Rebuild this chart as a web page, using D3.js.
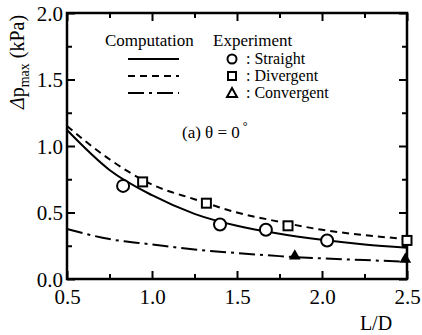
<!DOCTYPE html>
<html>
<head>
<meta charset="utf-8">
<script src="https://cdn.jsdelivr.net/npm/d3@7"></script>
<style>
  body { margin: 0; background: #fff; }
  svg text { font-family: "Liberation Serif", "DejaVu Serif", "Noto Serif", serif !important; fill: #000; }
</style>
</head>
<body>
<div id="chart"></div>
<script>
// L/D sample points for the computed curves
const curveLD = [0.5, 0.75, 1.0, 1.25, 1.5, 1.75, 2.0, 2.25, 2.5];
const compStraight = [1.12, 0.82, 0.63, 0.49, 0.40, 0.34, 0.295, 0.26, 0.235];
const compDivergent = [1.15, 0.90, 0.71, 0.60, 0.50, 0.43, 0.37, 0.33, 0.30];
const compConvergent = [0.376, 0.30, 0.26, 0.222, 0.195, 0.172, 0.155, 0.142, 0.13];

// experiment points
const expStraightLD = [0.83, 1.40, 1.67, 2.03];
const expStraight = [0.70, 0.41, 0.37, 0.29];
const expDivergentLD = [0.945, 1.32, 1.80, 2.50];
const expDivergent = [0.73, 0.57, 0.40, 0.29];
const expConvergentLD = [1.84, 2.49];
const expConvergent = [0.165, 0.14];

const xTicks = [0.5, 1.0, 1.5, 2.0, 2.5];
const yTicks = [0.0, 0.5, 1.0, 1.5, 2.0];
const xMinor = [0.75, 1.25, 1.75, 2.25];
const yMinor = [0.25, 0.75, 1.25, 1.75];

const W = 422, H = 335;
const margin = { top: 13, right: 15, bottom: 56, left: 67 };
const width = W - margin.left - margin.right;
const height = H - margin.top - margin.bottom;

const svg = d3.select('#chart')
  .append('svg')
  .attr('width', W)
  .attr('height', H)
  .attr('font-family', '"Liberation Serif", "DejaVu Serif", serif');

const g = svg.append('g')
  .attr('transform', `translate(${margin.left},${margin.top})`);

const x = d3.scaleLinear().domain([0.5, 2.5]).range([0, width]);
const y = d3.scaleLinear().domain([0, 2.0]).range([height, 0]);

// ticks pointing inward on all four sides
function tickSet(vals, len, fmt) {
  g.append('g')
    .attr('transform', `translate(0,${height})`)
    .call(d3.axisBottom(x).tickValues(vals).tickSize(-len).tickFormat(fmt ? d3.format('.1f') : ''))
    .call(a => a.attr('font-family', null))
    .call(a => a.select('.domain').remove())
    .call(a => a.selectAll('line').attr('stroke-width', 2))
    .call(a => a.selectAll('text').attr('dy', '1.05em').attr('y', 3).style('font-size', '21px'));
  g.append('g')
    .call(d3.axisTop(x).tickValues(vals).tickSize(-len).tickFormat(''))
    .call(a => a.select('.domain').remove())
    .call(a => a.selectAll('line').attr('stroke-width', 2));
}
function tickSetY(vals, len, fmt) {
  g.append('g')
    .call(d3.axisLeft(y).tickValues(vals).tickSize(-len).tickFormat(fmt ? d3.format('.1f') : ''))
    .call(a => a.attr('font-family', null))
    .call(a => a.select('.domain').remove())
    .call(a => a.selectAll('line').attr('stroke-width', 2))
    .call(a => a.selectAll('text').attr('x', -4).attr('dy', '0.35em').style('font-size', '21px'));
  g.append('g')
    .attr('transform', `translate(${width},0)`)
    .call(d3.axisRight(y).tickValues(vals).tickSize(-len).tickFormat(''))
    .call(a => a.select('.domain').remove())
    .call(a => a.selectAll('line').attr('stroke-width', 2));
}
tickSet(xTicks, 8, true);
tickSet(xMinor, 5, false);
tickSetY(yTicks, 8, true);
tickSetY(yMinor, 5, false);

// frame
g.append('rect')
  .attr('width', width)
  .attr('height', height)
  .attr('fill', 'none')
  .attr('stroke', '#000')
  .attr('stroke-width', 2.5);

// curves
const line = d3.line()
  .x(d => x(d[0]))
  .y(d => y(d[1]))
  .curve(d3.curveMonotoneX);

const styles = [
  { data: compStraight, dash: null },
  { data: compDivergent, dash: '7,5' },
  { data: compConvergent, dash: '16,5,3,5' }
];
styles.forEach(s => {
  g.append('path')
    .datum(curveLD.map((v, i) => [v, s.data[i]]))
    .attr('d', line)
    .attr('fill', 'none')
    .attr('stroke', '#000')
    .attr('stroke-width', 2)
    .attr('stroke-dasharray', s.dash);
});

// experiment markers
g.selectAll('.circ')
  .data(expStraightLD.map((v, i) => [v, expStraight[i]]))
  .enter().append('circle')
  .attr('cx', d => x(d[0]))
  .attr('cy', d => y(d[1]))
  .attr('r', 6)
  .attr('fill', '#fff')
  .attr('stroke', '#000')
  .attr('stroke-width', 2);

g.selectAll('.sq')
  .data(expDivergentLD.map((v, i) => [v, expDivergent[i]]))
  .enter().append('rect')
  .attr('x', d => x(d[0]) - 4.5)
  .attr('y', d => y(d[1]) - 4.5)
  .attr('width', 9)
  .attr('height', 9)
  .attr('fill', '#fff')
  .attr('stroke', '#000')
  .attr('stroke-width', 2);

const tri = d3.symbol().type(d3.symbolTriangle).size(60);
g.selectAll('.tri')
  .data(expConvergentLD.map((v, i) => [v, expConvergent[i]]))
  .enter().append('path')
  .attr('d', tri)
  .attr('transform', d => `translate(${x(d[0])},${y(d[1]) - 1})`)
  .attr('fill', '#000');

// legend
const leg = svg.append('g').style('font-size', '17px');
leg.append('text').attr('x', 105).attr('y', 46).text('Computation');
leg.append('text').attr('x', 213).attr('y', 46).text('Experiment');
const legRows = [
  { dash: null, label: ': Straight', mark: 'circle' },
  { dash: '7,5', label: ': Divergent', mark: 'square' },
  { dash: '16,5,3,5', label: ': Convergent', mark: 'triangle' }
];
legRows.forEach((r, i) => {
  const yy = 59 + i * 17;
  leg.append('line')
    .attr('x1', 128).attr('x2', 179)
    .attr('y1', yy).attr('y2', yy)
    .attr('stroke', '#000').attr('stroke-width', 2)
    .attr('stroke-dasharray', r.dash);
  const mx = 232;
  if (r.mark === 'circle') {
    leg.append('circle').attr('cx', mx).attr('cy', yy).attr('r', 4.5)
      .attr('fill', 'none').attr('stroke', '#000').attr('stroke-width', 2);
  } else if (r.mark === 'square') {
    leg.append('rect').attr('x', mx - 4).attr('y', yy - 4).attr('width', 8).attr('height', 8)
      .attr('fill', 'none').attr('stroke', '#000').attr('stroke-width', 2);
  } else {
    leg.append('path').attr('d', `M${mx},${yy - 5}L${mx + 5},${yy + 4}L${mx - 5},${yy + 4}Z`)
      .attr('fill', 'none').attr('stroke', '#000').attr('stroke-width', 2);
  }
  leg.append('text').attr('x', 246).attr('y', yy + 5).style('font-size', '16px').text(r.label);
});

// annotation
const ann = svg.append('text').attr('x', 182).attr('y', 138).style('font-size', '17px');
ann.append('tspan').text('(a)  θ = 0');
ann.append('tspan').attr('dy', -8).attr('dx', 3).style('font-size', '12px').text('°');

// axis titles
svg.append('text')
  .attr('x', 376).attr('y', 330)
  .attr('text-anchor', 'middle')
  .style('font-size', '20px')
  .text('L/D');

const yl = svg.append('text')
  .attr('transform', 'translate(24,62) rotate(-90)')
  .attr('text-anchor', 'middle')
  .style('font-size', '20px');
yl.append('tspan').style('font-style', 'italic').text('Δ');
yl.append('tspan').text('p');
yl.append('tspan').attr('dy', 5).style('font-size', '14px').text('max');
yl.append('tspan').attr('dy', -5).text(' (kPa)');
</script>
</body>
</html>
